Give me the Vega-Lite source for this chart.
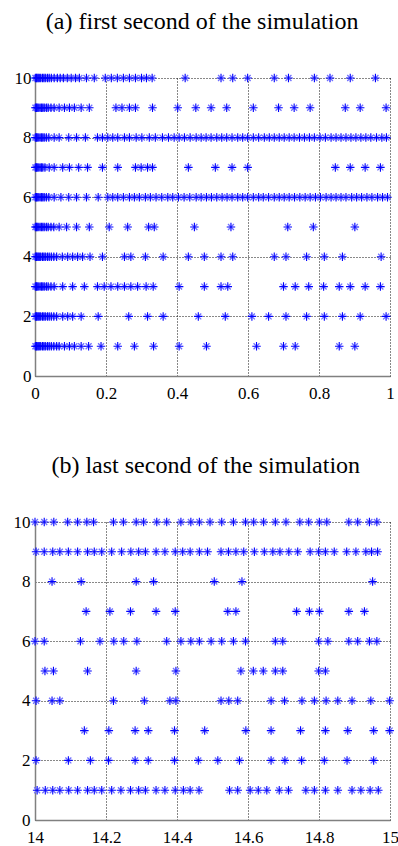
{
"$schema":"https://vega.github.io/schema/vega-lite/v6.json",
"padding":{"left":10,"top":10,"right":5,"bottom":0},
"spacing":53,
"config":{
 "view":{"stroke":null},
 "font":"Liberation Serif",
 "axis":{"domainColor":"#808080","domainWidth":1.5,"grid":true,"gridColor":"#111111","gridDash":[1,2],"gridWidth":1,"ticks":false,"labelFont":"Liberation Serif","labelFontSize":17,"labelColor":"#000000","labelFlush":false},
 "axisX":{"labelPadding":9},
 "axisY":{"labelPadding":4},
 "title":{"font":"Liberation Serif","fontSize":24,"fontWeight":"normal","color":"#000000","frame":"bounds","anchor":"middle","baseline":"alphabetic","offset":35}
},
"datasets":{
"a":[
{"t":0.001,"n":10},{"t":0.004,"n":10},{"t":0.006,"n":10},{"t":0.009,"n":10},{"t":0.012,"n":10},{"t":0.016,"n":10},{"t":0.021,"n":10},{"t":0.025,"n":10},{"t":0.029,"n":10},{"t":0.035,"n":10},{"t":0.040,"n":10},{"t":0.046,"n":10},{"t":0.054,"n":10},{"t":0.063,"n":10},{"t":0.071,"n":10},{"t":0.080,"n":10},{"t":0.091,"n":10},{"t":0.102,"n":10},{"t":0.114,"n":10},{"t":0.125,"n":10},{"t":0.145,"n":10},{"t":0.167,"n":10},{"t":0.198,"n":10},{"t":0.215,"n":10},{"t":0.232,"n":10},{"t":0.249,"n":10},{"t":0.266,"n":10},{"t":0.283,"n":10},{"t":0.300,"n":10},{"t":0.314,"n":10},{"t":0.330,"n":10},{"t":0.423,"n":10},{"t":0.524,"n":10},{"t":0.557,"n":10},{"t":0.599,"n":10},{"t":0.674,"n":10},{"t":0.714,"n":10},{"t":0.787,"n":10},{"t":0.831,"n":10},{"t":0.888,"n":10},{"t":0.959,"n":10},
{"t":0.001,"n":9},{"t":0.004,"n":9},{"t":0.006,"n":9},{"t":0.009,"n":9},{"t":0.014,"n":9},{"t":0.018,"n":9},{"t":0.022,"n":9},{"t":0.026,"n":9},{"t":0.032,"n":9},{"t":0.037,"n":9},{"t":0.045,"n":9},{"t":0.054,"n":9},{"t":0.068,"n":9},{"t":0.083,"n":9},{"t":0.097,"n":9},{"t":0.111,"n":9},{"t":0.130,"n":9},{"t":0.153,"n":9},{"t":0.228,"n":9},{"t":0.245,"n":9},{"t":0.266,"n":9},{"t":0.283,"n":9},{"t":0.331,"n":9},{"t":0.402,"n":9},{"t":0.453,"n":9},{"t":0.496,"n":9},{"t":0.540,"n":9},{"t":0.615,"n":9},{"t":0.686,"n":9},{"t":0.730,"n":9},{"t":0.775,"n":9},{"t":0.874,"n":9},{"t":0.916,"n":9},{"t":0.989,"n":9},
{"t":0.001,"n":8},{"t":0.004,"n":8},{"t":0.006,"n":8},{"t":0.009,"n":8},{"t":0.014,"n":8},{"t":0.018,"n":8},{"t":0.022,"n":8},{"t":0.026,"n":8},{"t":0.032,"n":8},{"t":0.039,"n":8},{"t":0.054,"n":8},{"t":0.068,"n":8},{"t":0.095,"n":8},{"t":0.117,"n":8},{"t":0.142,"n":8},{"t":0.176,"n":8},{"t":0.190,"n":8},{"t":0.205,"n":8},{"t":0.219,"n":8},{"t":0.233,"n":8},{"t":0.252,"n":8},{"t":0.266,"n":8},{"t":0.285,"n":8},{"t":0.301,"n":8},{"t":0.322,"n":8},{"t":0.339,"n":8},{"t":0.359,"n":8},{"t":0.376,"n":8},{"t":0.392,"n":8},{"t":0.406,"n":8},{"t":0.421,"n":8},{"t":0.437,"n":8},{"t":0.454,"n":8},{"t":0.468,"n":8},{"t":0.482,"n":8},{"t":0.496,"n":8},{"t":0.512,"n":8},{"t":0.526,"n":8},{"t":0.540,"n":8},{"t":0.555,"n":8},{"t":0.571,"n":8},{"t":0.585,"n":8},{"t":0.599,"n":8},{"t":0.615,"n":8},{"t":0.630,"n":8},{"t":0.646,"n":8},{"t":0.660,"n":8},{"t":0.674,"n":8},{"t":0.688,"n":8},{"t":0.702,"n":8},{"t":0.716,"n":8},{"t":0.730,"n":8},{"t":0.745,"n":8},{"t":0.759,"n":8},{"t":0.773,"n":8},{"t":0.787,"n":8},{"t":0.803,"n":8},{"t":0.818,"n":8},{"t":0.834,"n":8},{"t":0.848,"n":8},{"t":0.862,"n":8},{"t":0.876,"n":8},{"t":0.890,"n":8},{"t":0.904,"n":8},{"t":0.918,"n":8},{"t":0.932,"n":8},{"t":0.946,"n":8},{"t":0.962,"n":8},{"t":0.977,"n":8},{"t":0.990,"n":8},
{"t":0.001,"n":7},{"t":0.004,"n":7},{"t":0.006,"n":7},{"t":0.009,"n":7},{"t":0.014,"n":7},{"t":0.018,"n":7},{"t":0.022,"n":7},{"t":0.028,"n":7},{"t":0.040,"n":7},{"t":0.054,"n":7},{"t":0.078,"n":7},{"t":0.097,"n":7},{"t":0.123,"n":7},{"t":0.148,"n":7},{"t":0.190,"n":7},{"t":0.233,"n":7},{"t":0.283,"n":7},{"t":0.299,"n":7},{"t":0.317,"n":7},{"t":0.331,"n":7},{"t":0.432,"n":7},{"t":0.508,"n":7},{"t":0.555,"n":7},{"t":0.599,"n":7},{"t":0.846,"n":7},{"t":0.888,"n":7},{"t":0.930,"n":7},{"t":0.973,"n":7},
{"t":0.001,"n":6},{"t":0.004,"n":6},{"t":0.006,"n":6},{"t":0.009,"n":6},{"t":0.014,"n":6},{"t":0.018,"n":6},{"t":0.022,"n":6},{"t":0.026,"n":6},{"t":0.032,"n":6},{"t":0.039,"n":6},{"t":0.054,"n":6},{"t":0.073,"n":6},{"t":0.095,"n":6},{"t":0.117,"n":6},{"t":0.145,"n":6},{"t":0.178,"n":6},{"t":0.205,"n":6},{"t":0.219,"n":6},{"t":0.233,"n":6},{"t":0.249,"n":6},{"t":0.266,"n":6},{"t":0.280,"n":6},{"t":0.294,"n":6},{"t":0.311,"n":6},{"t":0.325,"n":6},{"t":0.341,"n":6},{"t":0.357,"n":6},{"t":0.374,"n":6},{"t":0.388,"n":6},{"t":0.404,"n":6},{"t":0.420,"n":6},{"t":0.436,"n":6},{"t":0.454,"n":6},{"t":0.468,"n":6},{"t":0.483,"n":6},{"t":0.497,"n":6},{"t":0.512,"n":6},{"t":0.527,"n":6},{"t":0.541,"n":6},{"t":0.555,"n":6},{"t":0.571,"n":6},{"t":0.585,"n":6},{"t":0.599,"n":6},{"t":0.615,"n":6},{"t":0.630,"n":6},{"t":0.643,"n":6},{"t":0.658,"n":6},{"t":0.674,"n":6},{"t":0.688,"n":6},{"t":0.702,"n":6},{"t":0.716,"n":6},{"t":0.731,"n":6},{"t":0.746,"n":6},{"t":0.761,"n":6},{"t":0.775,"n":6},{"t":0.790,"n":6},{"t":0.804,"n":6},{"t":0.820,"n":6},{"t":0.834,"n":6},{"t":0.848,"n":6},{"t":0.862,"n":6},{"t":0.876,"n":6},{"t":0.892,"n":6},{"t":0.906,"n":6},{"t":0.920,"n":6},{"t":0.935,"n":6},{"t":0.949,"n":6},{"t":0.965,"n":6},{"t":0.979,"n":6},{"t":0.993,"n":6},
{"t":0.001,"n":5},{"t":0.004,"n":5},{"t":0.006,"n":5},{"t":0.009,"n":5},{"t":0.014,"n":5},{"t":0.018,"n":5},{"t":0.022,"n":5},{"t":0.026,"n":5},{"t":0.032,"n":5},{"t":0.037,"n":5},{"t":0.045,"n":5},{"t":0.053,"n":5},{"t":0.068,"n":5},{"t":0.089,"n":5},{"t":0.117,"n":5},{"t":0.153,"n":5},{"t":0.209,"n":5},{"t":0.261,"n":5},{"t":0.320,"n":5},{"t":0.336,"n":5},{"t":0.449,"n":5},{"t":0.552,"n":5},{"t":0.712,"n":5},{"t":0.784,"n":5},{"t":0.901,"n":5},
{"t":0.001,"n":4},{"t":0.004,"n":4},{"t":0.006,"n":4},{"t":0.009,"n":4},{"t":0.012,"n":4},{"t":0.016,"n":4},{"t":0.021,"n":4},{"t":0.025,"n":4},{"t":0.029,"n":4},{"t":0.035,"n":4},{"t":0.040,"n":4},{"t":0.046,"n":4},{"t":0.053,"n":4},{"t":0.061,"n":4},{"t":0.077,"n":4},{"t":0.092,"n":4},{"t":0.106,"n":4},{"t":0.120,"n":4},{"t":0.134,"n":4},{"t":0.155,"n":4},{"t":0.190,"n":4},{"t":0.252,"n":4},{"t":0.270,"n":4},{"t":0.311,"n":4},{"t":0.361,"n":4},{"t":0.432,"n":4},{"t":0.477,"n":4},{"t":0.524,"n":4},{"t":0.557,"n":4},{"t":0.674,"n":4},{"t":0.707,"n":4},{"t":0.765,"n":4},{"t":0.815,"n":4},{"t":0.866,"n":4},{"t":0.975,"n":4},
{"t":0.001,"n":3},{"t":0.004,"n":3},{"t":0.006,"n":3},{"t":0.009,"n":3},{"t":0.014,"n":3},{"t":0.018,"n":3},{"t":0.022,"n":3},{"t":0.026,"n":3},{"t":0.032,"n":3},{"t":0.037,"n":3},{"t":0.045,"n":3},{"t":0.054,"n":3},{"t":0.078,"n":3},{"t":0.106,"n":3},{"t":0.139,"n":3},{"t":0.176,"n":3},{"t":0.195,"n":3},{"t":0.214,"n":3},{"t":0.233,"n":3},{"t":0.252,"n":3},{"t":0.270,"n":3},{"t":0.289,"n":3},{"t":0.313,"n":3},{"t":0.333,"n":3},{"t":0.406,"n":3},{"t":0.477,"n":3},{"t":0.524,"n":3},{"t":0.543,"n":3},{"t":0.700,"n":3},{"t":0.733,"n":3},{"t":0.771,"n":3},{"t":0.813,"n":3},{"t":0.857,"n":3},{"t":0.888,"n":3},{"t":0.930,"n":3},{"t":0.973,"n":3},
{"t":0.001,"n":2},{"t":0.004,"n":2},{"t":0.006,"n":2},{"t":0.009,"n":2},{"t":0.012,"n":2},{"t":0.016,"n":2},{"t":0.021,"n":2},{"t":0.025,"n":2},{"t":0.029,"n":2},{"t":0.035,"n":2},{"t":0.040,"n":2},{"t":0.046,"n":2},{"t":0.053,"n":2},{"t":0.061,"n":2},{"t":0.078,"n":2},{"t":0.092,"n":2},{"t":0.106,"n":2},{"t":0.130,"n":2},{"t":0.178,"n":2},{"t":0.264,"n":2},{"t":0.317,"n":2},{"t":0.361,"n":2},{"t":0.460,"n":2},{"t":0.536,"n":2},{"t":0.611,"n":2},{"t":0.658,"n":2},{"t":0.707,"n":2},{"t":0.765,"n":2},{"t":0.815,"n":2},{"t":0.866,"n":2},{"t":0.916,"n":2},{"t":0.989,"n":2},
{"t":0.001,"n":1},{"t":0.004,"n":1},{"t":0.006,"n":1},{"t":0.009,"n":1},{"t":0.012,"n":1},{"t":0.016,"n":1},{"t":0.021,"n":1},{"t":0.025,"n":1},{"t":0.029,"n":1},{"t":0.035,"n":1},{"t":0.040,"n":1},{"t":0.046,"n":1},{"t":0.053,"n":1},{"t":0.061,"n":1},{"t":0.068,"n":1},{"t":0.083,"n":1},{"t":0.097,"n":1},{"t":0.111,"n":1},{"t":0.130,"n":1},{"t":0.151,"n":1},{"t":0.186,"n":1},{"t":0.233,"n":1},{"t":0.280,"n":1},{"t":0.334,"n":1},{"t":0.406,"n":1},{"t":0.483,"n":1},{"t":0.624,"n":1},{"t":0.700,"n":1},{"t":0.733,"n":1},{"t":0.857,"n":1},{"t":0.901,"n":1}
],
"b":[
{"t":14.000,"n":10},{"t":14.026,"n":10},{"t":14.053,"n":10},{"t":14.092,"n":10},{"t":14.120,"n":10},{"t":14.146,"n":10},{"t":14.165,"n":10},{"t":14.221,"n":10},{"t":14.249,"n":10},{"t":14.285,"n":10},{"t":14.306,"n":10},{"t":14.343,"n":10},{"t":14.371,"n":10},{"t":14.411,"n":10},{"t":14.439,"n":10},{"t":14.463,"n":10},{"t":14.493,"n":10},{"t":14.526,"n":10},{"t":14.559,"n":10},{"t":14.593,"n":10},{"t":14.616,"n":10},{"t":14.644,"n":10},{"t":14.677,"n":10},{"t":14.707,"n":10},{"t":14.746,"n":10},{"t":14.771,"n":10},{"t":14.801,"n":10},{"t":14.822,"n":10},{"t":14.884,"n":10},{"t":14.909,"n":10},{"t":14.942,"n":10},{"t":14.963,"n":10},
{"t":14.003,"n":9},{"t":14.026,"n":9},{"t":14.050,"n":9},{"t":14.070,"n":9},{"t":14.094,"n":9},{"t":14.120,"n":9},{"t":14.148,"n":9},{"t":14.167,"n":9},{"t":14.188,"n":9},{"t":14.216,"n":9},{"t":14.244,"n":9},{"t":14.270,"n":9},{"t":14.292,"n":9},{"t":14.311,"n":9},{"t":14.341,"n":9},{"t":14.366,"n":9},{"t":14.395,"n":9},{"t":14.416,"n":9},{"t":14.437,"n":9},{"t":14.463,"n":9},{"t":14.486,"n":9},{"t":14.524,"n":9},{"t":14.545,"n":9},{"t":14.566,"n":9},{"t":14.588,"n":9},{"t":14.618,"n":9},{"t":14.646,"n":9},{"t":14.670,"n":9},{"t":14.690,"n":9},{"t":14.715,"n":9},{"t":14.740,"n":9},{"t":14.775,"n":9},{"t":14.799,"n":9},{"t":14.818,"n":9},{"t":14.843,"n":9},{"t":14.878,"n":9},{"t":14.904,"n":9},{"t":14.932,"n":9},{"t":14.948,"n":9},{"t":14.965,"n":9},
{"t":14.048,"n":8},{"t":14.130,"n":8},{"t":14.285,"n":8},{"t":14.334,"n":8},{"t":14.505,"n":8},{"t":14.583,"n":8},{"t":14.951,"n":8},
{"t":14.144,"n":7},{"t":14.211,"n":7},{"t":14.269,"n":7},{"t":14.341,"n":7},{"t":14.395,"n":7},{"t":14.543,"n":7},{"t":14.566,"n":7},{"t":14.737,"n":7},{"t":14.773,"n":7},{"t":14.801,"n":7},{"t":14.884,"n":7},{"t":14.928,"n":7},
{"t":14.000,"n":6},{"t":14.026,"n":6},{"t":14.128,"n":6},{"t":14.183,"n":6},{"t":14.222,"n":6},{"t":14.250,"n":6},{"t":14.287,"n":6},{"t":14.371,"n":6},{"t":14.411,"n":6},{"t":14.439,"n":6},{"t":14.463,"n":6},{"t":14.496,"n":6},{"t":14.526,"n":6},{"t":14.559,"n":6},{"t":14.593,"n":6},{"t":14.677,"n":6},{"t":14.698,"n":6},{"t":14.799,"n":6},{"t":14.825,"n":6},{"t":14.884,"n":6},{"t":14.909,"n":6},{"t":14.942,"n":6},{"t":14.963,"n":6},
{"t":14.028,"n":5},{"t":14.052,"n":5},{"t":14.148,"n":5},{"t":14.285,"n":5},{"t":14.397,"n":5},{"t":14.580,"n":5},{"t":14.615,"n":5},{"t":14.643,"n":5},{"t":14.677,"n":5},{"t":14.698,"n":5},{"t":14.799,"n":5},{"t":14.818,"n":5},
{"t":14.003,"n":4},{"t":14.048,"n":4},{"t":14.070,"n":4},{"t":14.221,"n":4},{"t":14.308,"n":4},{"t":14.380,"n":4},{"t":14.397,"n":4},{"t":14.524,"n":4},{"t":14.546,"n":4},{"t":14.571,"n":4},{"t":14.665,"n":4},{"t":14.703,"n":4},{"t":14.752,"n":4},{"t":14.787,"n":4},{"t":14.820,"n":4},{"t":14.853,"n":4},{"t":14.893,"n":4},{"t":14.946,"n":4},{"t":14.999,"n":4},
{"t":14.139,"n":3},{"t":14.208,"n":3},{"t":14.282,"n":3},{"t":14.319,"n":3},{"t":14.393,"n":3},{"t":14.478,"n":3},{"t":14.594,"n":3},{"t":14.665,"n":3},{"t":14.748,"n":3},{"t":14.818,"n":3},{"t":14.881,"n":3},{"t":14.954,"n":3},{"t":14.999,"n":3},
{"t":14.003,"n":2},{"t":14.094,"n":2},{"t":14.156,"n":2},{"t":14.207,"n":2},{"t":14.282,"n":2},{"t":14.319,"n":2},{"t":14.393,"n":2},{"t":14.460,"n":2},{"t":14.515,"n":2},{"t":14.576,"n":2},{"t":14.665,"n":2},{"t":14.704,"n":2},{"t":14.751,"n":2},{"t":14.815,"n":2},{"t":14.879,"n":2},{"t":14.954,"n":2},
{"t":14.006,"n":1},{"t":14.029,"n":1},{"t":14.050,"n":1},{"t":14.070,"n":1},{"t":14.095,"n":1},{"t":14.120,"n":1},{"t":14.148,"n":1},{"t":14.167,"n":1},{"t":14.188,"n":1},{"t":14.216,"n":1},{"t":14.242,"n":1},{"t":14.269,"n":1},{"t":14.292,"n":1},{"t":14.311,"n":1},{"t":14.341,"n":1},{"t":14.366,"n":1},{"t":14.395,"n":1},{"t":14.418,"n":1},{"t":14.437,"n":1},{"t":14.462,"n":1},{"t":14.548,"n":1},{"t":14.571,"n":1},{"t":14.606,"n":1},{"t":14.629,"n":1},{"t":14.653,"n":1},{"t":14.688,"n":1},{"t":14.714,"n":1},{"t":14.763,"n":1},{"t":14.787,"n":1},{"t":14.818,"n":1},{"t":14.853,"n":1},{"t":14.893,"n":1},{"t":14.918,"n":1},{"t":14.944,"n":1},{"t":14.967,"n":1}
]
},
"vconcat":[
{
 "title":"(a) first second of the simulation",
 "width":355,"height":298,
 "data":{"name":"a"},
 "encoding":{
  "x":{"field":"t","type":"quantitative","scale":{"domain":[0,1],"nice":false,"zero":false},"axis":{"title":null,"values":[0,0.2,0.4,0.6,0.8,1],"format":"~g"}},
  "y":{"field":"n","type":"quantitative","scale":{"domain":[0,10],"nice":false},"axis":{"title":null,"values":[0,2,4,6,8,10],"minExtent":25,"maxExtent":25}}
 },
 "layer":[
  {"mark":{"type":"point","shape":"M-0.7,-0.7L0.7,0.7M-0.7,0.7L0.7,-0.7","filled":false,"stroke":"#7070ff","strokeWidth":1.3,"size":72,"opacity":1}},
  {"mark":{"type":"point","shape":"M-1,0L1,0M0,-1L0,1","filled":false,"stroke":"#0000ff","strokeWidth":1.1,"size":72,"opacity":1}}
 ]
},
{
 "title":"(b) last second of the simulation",
 "width":355,"height":298,
 "data":{"name":"b"},
 "encoding":{
  "x":{"field":"t","type":"quantitative","scale":{"domain":[14,15],"nice":false,"zero":false},"axis":{"title":null,"values":[14,14.2,14.4,14.6,14.8,15],"format":"~g","labelPadding":9}},
  "y":{"field":"n","type":"quantitative","scale":{"domain":[0,10],"nice":false},"axis":{"title":null,"values":[0,2,4,6,8,10],"minExtent":22,"maxExtent":22,"labelPadding":5}}
 },
 "layer":[
  {"mark":{"type":"point","shape":"M-0.7,-0.7L0.7,0.7M-0.7,0.7L0.7,-0.7","filled":false,"stroke":"#7070ff","strokeWidth":1.3,"size":72,"opacity":1}},
  {"mark":{"type":"point","shape":"M-1,0L1,0M0,-1L0,1","filled":false,"stroke":"#0000ff","strokeWidth":1.1,"size":72,"opacity":1}}
 ]
}
]
}
